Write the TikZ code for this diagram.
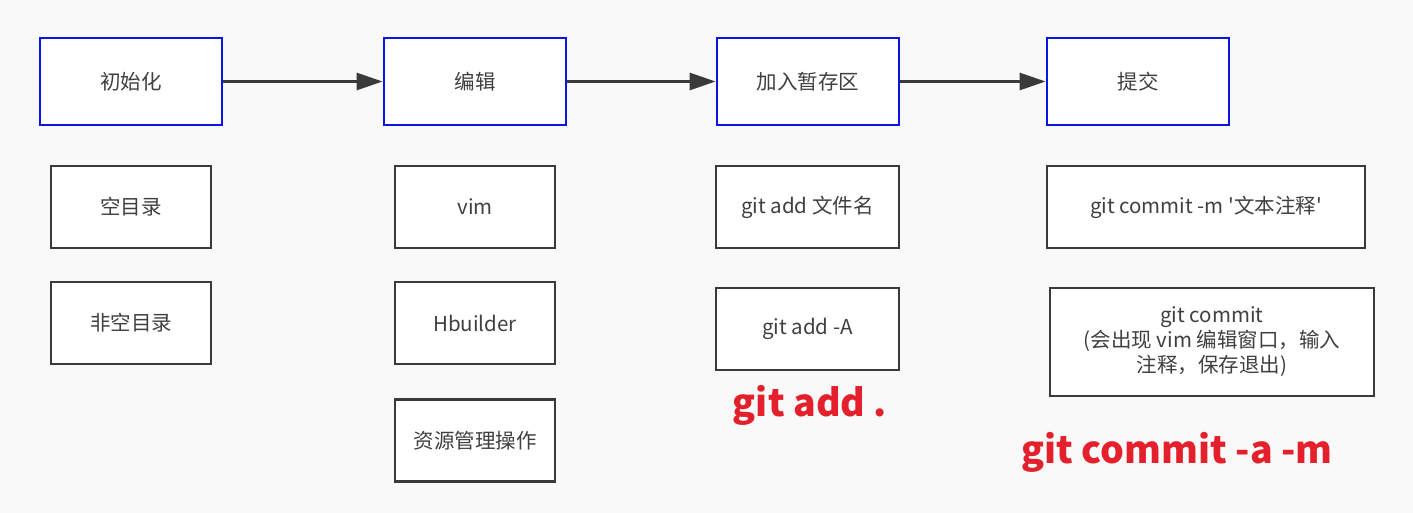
\documentclass[tikz,border=0pt]{standalone}
\usepackage{fontspec}
\setmainfont{Noto Sans CJK SC}
\usepackage{xcolor}
\usetikzlibrary{positioning, arrows.meta}
\definecolor{boxblue}{HTML}{0A14E6}
\definecolor{boxgray}{HTML}{3A3A3A}
\definecolor{txtgray}{HTML}{404040}
\definecolor{notered}{HTML}{E3202B}
\definecolor{bggray}{HTML}{F9F9F9}

\begin{document}
\begin{tikzpicture}[x=1pt, y=-1pt,
    stepnode/.style={draw=boxblue, line width=2.8pt, fill=white, minimum width=182pt, minimum height=87pt,
      text=txtgray, font=\fontsize{20.5}{25}\selectfont},
    itemnode/.style={draw=boxgray, line width=2.8pt, fill=white, minimum width=160pt, minimum height=82pt,
      text=txtgray, align=center, font=\fontsize{20.5}{25}\selectfont},
    flow/.style={draw=boxgray, line width=2.8pt, -{Triangle[length=26pt, width=17pt]}},
    note/.style={text=notered, font=\fontsize{37.5}{44}\selectfont\bfseries}]
    \fill[bggray] (0,0) rectangle (1413,513);
    \useasboundingbox (0,0) rectangle (1413,513);

    \foreach \name/\x/\txt in {init/131/初始化, edit/475/编辑, stage/808/加入暂存区, commit/1138/提交}
    {
    \node[stepnode] (\name) at (\x,81.5) {\txt};
    }
    \draw[flow] (init) -- (edit);
    \draw[flow] (edit) -- (stage);
    \draw[flow] (stage) -- (commit);

    \node[itemnode] (emptydir) at (131,207) {空目录};
    \node[itemnode] (fulldir) at (131,323) {非空目录};

    \node[itemnode] (vim) at (475,207) {vim};
    \node[itemnode] (hbuilder) at (475,323) {Hbuilder};
    \node[itemnode] (explorer) at (475,440.5) {资源管理操作};

    \node[itemnode, minimum width=183pt] (addfile) at (807.5,207) {git add 文件名};
    \node[itemnode, minimum width=183pt] (addall) at (807.5,329) {git add -A};
    \node[note] (adddot) at (810,405) {git add .};

    \node[itemnode, minimum width=318pt] (commitmsg) at (1206,207)
      {git commit -m \textquotesingle 文本注释\textquotesingle};
    \node[itemnode, minimum width=324pt, minimum height=108pt] (commitvim) at (1212,342)
      {git commit\\ (会出现 vim 编辑窗口，输入\\注释，保存退出)};
    \node[note] (commitam) at (1177,452) {git commit -a -m};
\end{tikzpicture}
\end{document}
